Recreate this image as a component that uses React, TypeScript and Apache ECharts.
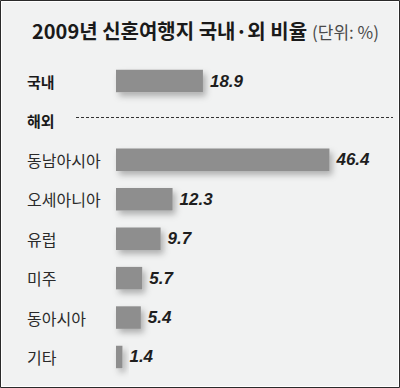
import React, { useEffect, useRef } from "react";
import * as echarts from "echarts";

const titleText = "2009년 신혼여행지 국내·외 비율";
const unitText = "(단위: %)";
const categories = ["국내", "해외", "동남아시아", "오세아니아", "유럽", "미주", "동아시아", "기타"];
const values: (number | null)[] = [18.9, null, 46.4, 12.3, 9.7, 5.7, 5.4, 1.4];
const boldCategories = ["국내", "해외"];

export default function App() {
  const ref = useRef<HTMLDivElement>(null);
  useEffect(() => {
    if (!ref.current) return;
    const chart = echarts.init(ref.current, null, { renderer: "svg" });
    chart.setOption({
      animation: false,
      backgroundColor: "#f1f2f2",
      title: {
        left: 27,
        top: 15,
        text: `{a|${titleText}} {b|${unitText}}`,
        textStyle: {
          rich: {
            a: { fontFamily: "Noto Sans CJK KR", fontSize: 20, fontWeight: "bold", color: "#1a1a1a" },
            b: { fontFamily: "Noto Sans CJK KR", fontSize: 17, fontWeight: "normal", color: "#4a4a4a", padding: [2, 0, 0, 0] },
          },
        },
      },
      graphic: [
        { type: "rect", shape: { x: 0.5, y: 0.5, width: 399, height: 387 }, style: { fill: "none", stroke: "#2a2a2a", lineWidth: 1 }, silent: true },
        { type: "rect", shape: { x: 1.5, y: 1.5, width: 397, height: 385 }, style: { fill: "none", stroke: "#ffffff", lineWidth: 1 }, silent: true },
        { type: "line", shape: { x1: 76, y1: 117.5, x2: 393, y2: 117.5 }, style: { stroke: "#333", lineWidth: 1, lineDash: [3, 2] }, silent: true },
      ],
      grid: { left: 116, right: 8, top: 61.3, bottom: 11.3, containLabel: false },
      xAxis: { type: "value", min: 0, max: 60, show: false },
      yAxis: {
        type: "category",
        data: categories,
        inverse: true,
        axisLine: { show: false },
        axisTick: { show: false },
        splitLine: { show: false },
        axisLabel: {
          align: "left",
          margin: 89,
          formatter: (v: string) => (boldCategories.includes(v) ? `{b|${v}}` : `{n|${v}}`),
          rich: {
            b: { fontFamily: "Noto Sans CJK KR", fontSize: 15, fontWeight: "bold", color: "#1a1a1a" },
            n: { fontFamily: "Noto Sans CJK KR", fontSize: 16, color: "#2a2a2a" },
          },
        },
      },
      series: [
        {
          type: "bar",
          data: values,
          barWidth: 22.5,
          itemStyle: {
            color: "#8e8e8e",
            shadowColor: "rgba(0,0,0,0.28)",
            shadowBlur: 6,
            shadowOffsetX: 3,
            shadowOffsetY: 4,
          },
          label: {
            show: true,
            position: "right",
            distance: 7,
            formatter: (p: any) => (p.value == null ? "" : Number(p.value).toFixed(1)),
            fontFamily: "Liberation Sans",
            fontSize: 17,
            fontWeight: "bold",
            fontStyle: "italic",
            color: "#1e1e1e",
          },
        },
      ],
    });
    return () => chart.dispose();
  }, []);
  return <div ref={ref} style={{ position: "fixed", left: 0, top: 0, width: 400, height: 388 }} />;
}
